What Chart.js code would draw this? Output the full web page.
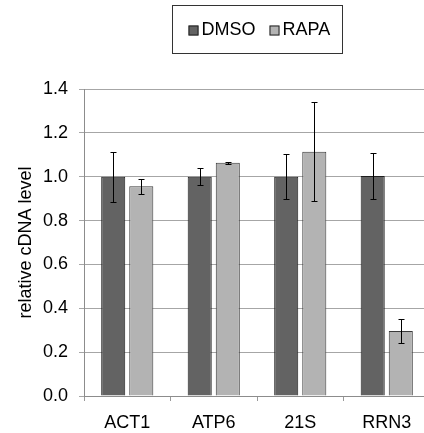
<!DOCTYPE html>
<html>
<head>
<meta charset="utf-8">
<script src="https://cdn.jsdelivr.net/npm/chart.js@4"></script>
<style>
html,body{margin:0;padding:0;background:#fff;overflow:hidden;}
#wrap{width:430px;height:433px;}
</style>
</head>
<body>
<div id="wrap"><canvas id="c" width="430" height="433"></canvas></div>
<script>
const categories = ['ACT1', 'ATP6', '21S', 'RRN3'];
const seriesNames = ['DMSO', 'RAPA'];
const dmsoValues = [1.0, 1.0, 1.0, 1.003];
const dmsoErrors = [0.114, 0.04, 0.103, 0.105];
const rapaValues = [0.956, 1.064, 1.114, 0.296];
const rapaErrors = [0.035, 0.004, 0.225, 0.054];
const yTicks = [0.0, 0.2, 0.4, 0.6, 0.8, 1.0, 1.2, 1.4];
const yTitle = 'relative cDNA level';

const FONT = '"Liberation Sans", Arial, sans-serif';
const FS = 18;
const errorSets = [dmsoErrors, rapaErrors];

const errorBarPlugin = {
  id: 'errorBars',
  afterDatasetsDraw(chart) {
    const ctx = chart.ctx;
    const y = chart.scales.y;
    ctx.save();
    ctx.strokeStyle = '#000';
    ctx.lineWidth = 1;
    chart.data.datasets.forEach((ds, i) => {
      const meta = chart.getDatasetMeta(i);
      meta.data.forEach((bar, j) => {
        const v = ds.data[j], e = errorSets[i][j];
        const x = Math.round(bar.x) + 0.5;
        const yt = Math.round(y.getPixelForValue(v + e)) + 0.5;
        const yb = Math.round(y.getPixelForValue(v - e)) + 0.5;
        ctx.beginPath();
        ctx.moveTo(x, yt); ctx.lineTo(x, yb);
        ctx.moveTo(x - 3, yt); ctx.lineTo(x + 3, yt);
        ctx.moveTo(x - 3, yb); ctx.lineTo(x + 3, yb);
        ctx.stroke();
      });
    });
    ctx.restore();
  }
};

const boxLegendPlugin = {
  id: 'boxLegend',
  afterDraw(chart) {
    const ctx = chart.ctx;
    const ca = chart.chartArea;
    ctx.save();
    ctx.font = FS + 'px ' + FONT;
    ctx.textBaseline = 'middle';
    const sq = 10, gap = 3, itemGap = 14, padL = 16, padR = 12;
    const items = chart.data.datasets.map(ds => ({text: ds.label, color: ds.backgroundColor, w: ctx.measureText(ds.label).width}));
    let content = 0;
    items.forEach((it, k) => { content += sq + gap + it.w + (k < items.length - 1 ? itemGap : 0); });
    const boxW = Math.round(content + padL + padR);
    const cx = (ca.left + ca.right) / 2;
    const bx = Math.round(cx - boxW / 2) + 0.5;
    const by = 5.5, bh = 48;
    ctx.strokeStyle = '#333';
    ctx.lineWidth = 1;
    ctx.strokeRect(bx, by, boxW, bh);
    let x = bx + padL;
    const cy = 30.5;
    items.forEach(it => {
      ctx.fillStyle = it.color;
      ctx.fillRect(x, cy - 5, sq, sq);
      ctx.strokeStyle = '#222';
      ctx.strokeRect(x + 0.5, cy - 4.5, sq - 1, sq - 1);
      ctx.fillStyle = '#000';
      ctx.fillText(it.text, x + sq + gap, cy);
      x += sq + gap + it.w + itemGap;
    });
    ctx.restore();
  }
};

new Chart(document.getElementById('c'), {
  type: 'bar',
  data: {
    labels: categories,
    datasets: [
      {label: seriesNames[0], data: dmsoValues, backgroundColor: '#636363', borderColor: '#1e1e1e', borderWidth: 1},
      {label: seriesNames[1], data: rapaValues, backgroundColor: '#b3b3b3', borderColor: '#3a3a3a', borderWidth: 1}
    ]
  },
  options: {
    responsive: false,
    animation: false,
    events: [],
    layout: {padding: {top: 89, left: 0, right: 0, bottom: 0}},
    datasets: {bar: {categoryPercentage: 0.649, barPercentage: 0.857}},
    plugins: {legend: {display: false}, tooltip: {enabled: false}},
    scales: {
      x: {
        afterFit(s) { s.height = 37; },
        grid: {display: true, drawOnChartArea: false, drawTicks: true, tickLength: 5, color: '#999', offset: true},
        border: {display: true, color: '#8c8c8c', width: 1},
        ticks: {font: {family: FONT, size: FS}, color: '#000', padding: 11},
      },
      y: {
        min: 0, max: 1.4,
        afterFit(s) { s.width = 84; },
        afterBuildTicks(s) { s.ticks = yTicks.map(v => ({value: v})); },
        grid: {color: '#a6a6a6', tickLength: 5, lineWidth: 1},
        border: {display: true, color: '#8c8c8c', width: 1},
        ticks: {font: {family: FONT, size: FS}, color: '#000', padding: 11, callback: v => Number(v).toFixed(1)},
        title: {display: true, text: yTitle, font: {family: FONT, size: FS}, color: '#000', padding: {top: 15, bottom: 0}}
      }
    }
  },
  plugins: [errorBarPlugin, boxLegendPlugin]
});
</script>
</body>
</html>
